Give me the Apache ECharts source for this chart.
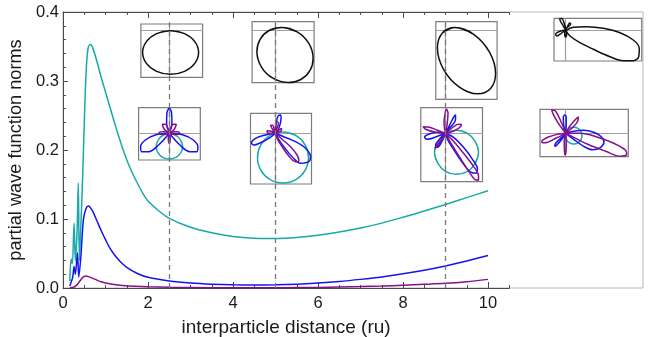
<!DOCTYPE html>
<html>
<head>
<meta charset="utf-8">
<script src="https://cdn.jsdelivr.net/npm/echarts@6/dist/echarts.min.js"></script>
<style>
html, body { margin: 0; padding: 0; background: #fff; }
#chart { width: 649px; height: 337px; }
</style>
</head>
<body>
<div id="chart"></div>
<script>
// main curves, [distance, norm]
var tealNorm = [[0.16,0.01],[0.19,0.042],[0.22,0.035],[0.26,0.094],[0.29,0.04],[0.33,0.08],[0.36,0.152],[0.385,0.04],[0.42,0.09],[0.46,0.157],[0.52,0.277],[0.56,0.33],[0.6,0.35],[0.65,0.353],[0.7,0.348],[0.8,0.328],[0.9,0.305],[1.0,0.284],[1.1,0.263],[1.2,0.242],[1.3,0.222],[1.4,0.203],[1.5,0.186],[1.6,0.171],[1.7,0.158],[1.8,0.146],[1.9,0.135],[2.0,0.126],[2.25,0.112],[2.5,0.101],[3.0,0.088],[3.5,0.08],[4.0,0.0748],[4.5,0.0722],[5.0,0.0717],[5.5,0.0733],[6.0,0.0765],[6.5,0.081],[7.0,0.0868],[7.5,0.094],[8.0,0.1025],[8.5,0.1115],[9.0,0.121],[9.5,0.131],[10,0.141]];
var blueNorm = [[0.16,0.003],[0.2,0.01],[0.23,0.016],[0.26,0.031],[0.29,0.02],[0.34,0.051],[0.37,0.016],[0.42,0.045],[0.48,0.099],[0.54,0.115],[0.6,0.119],[0.7,0.111],[0.8,0.097],[0.9,0.083],[1.0,0.07],[1.1,0.058],[1.2,0.049],[1.35,0.038],[1.5,0.03],[1.75,0.021],[2.0,0.0155],[2.5,0.0102],[3.0,0.0072],[3.5,0.0055],[4.0,0.0046],[4.5,0.0043],[5.0,0.0046],[5.5,0.0055],[6.0,0.0072],[6.5,0.0095],[7.0,0.0125],[7.5,0.016],[8.0,0.0205],[8.5,0.0258],[9.0,0.032],[9.5,0.039],[10,0.047]];
var purpleNorm = [[0.16,0.0],[0.25,0.001],[0.3,0.003],[0.36,0.007],[0.42,0.012],[0.48,0.016],[0.54,0.0174],[0.6,0.0165],[0.7,0.014],[0.8,0.0114],[0.9,0.009],[1.0,0.0072],[1.2,0.005],[1.4,0.0036],[1.7,0.0024],[2.0,0.0017],[2.5,0.001],[3,0.0007],[4,0.0004],[5,0.0004],[5.5,0.0006],[6.0,0.0009],[6.5,0.0014],[7.0,0.002],[7.5,0.0029],[8.0,0.004],[8.5,0.0053],[9.0,0.0068],[9.5,0.0092],[10,0.0125]];

var xTickLabels = [0, 2, 4, 6, 8, 10];
var markedDistances = [2.5, 5, 9];

// polar insets, outline points in each inset's own units (origin = crosshair)
var a1Black = [[[1.3,-0.7],[15.3,-3.6],[25.5,-11.6],[29.3,-22.5],[25.5,-33.4],[15.3,-41.4],[1.3,-44.3],[-12.7,-41.4],[-22.9,-33.4],[-26.7,-22.5],[-22.9,-11.6],[-12.7,-3.6],[1.3,-0.7]]];
var b1Black = [[[6,2.5],[-6.4,-0.5],[-15.4,-9.3],[-18.6,-21.6],[-14.2,-36.8],[-2.6,-48.2],[13,-52.5],[25.4,-49.5],[34.4,-40.7],[37.6,-28.4],[33.2,-13.2],[21.6,-1.8],[6,2.5]]];
var c1Black = [[[9.7,2.4],[-3.1,-2.9],[-8.1,-17.8],[-2,-39.3],[13.9,-57.1],[32.3,-63.8],[45.1,-58.5],[50.1,-43.6],[44,-22.1],[28.1,-4.3],[9.7,2.4]]];
var d1Black = [
  [[0,-0.7],[7.6,2.7],[21,3.3],[37.6,1.7],[54.3,-2.7],[67.6,-10],[73.6,-18.3],[73,-26.7],[67.6,-30.7],[57.6,-30.7],[44.3,-26.7],[27.6,-19.3],[14.3,-12.7],[4.3,-6],[0,-0.7]],
  [[0,0],[-3,5],[-6,11],[-4,11.5],[-1,5],[0,0]],
  [[0,0],[2,4],[4,7],[5,6],[1,2],[0,0]],
  [[0,0],[-5,-1],[-10,-4],[-9,-6],[-4,-3],[0,0]],
  [[0,0],[-1,-3],[0,-7],[1,-3],[0,0]]
];

var a2Teal = [[[0,0],[7.7,-2.7],[12,-8.4],[13.3,-13.4],[11.6,-19.4],[6.6,-24],[0,-25.7],[-6.7,-24],[-11.4,-19.4],[-13,-13.4],[-11.7,-7.7],[-7.4,-2.7],[0,0]]];
var a2Blue = [
  [[0,0],[-2.7,10],[-2.4,20],[0,25],[2.3,20],[2.6,10],[0,0]],
  [[0,0],[-14,-1.7],[-24,-6.7],[-28.7,-13.4],[-27.4,-18.4],[-20.7,-18.4],[-10.7,-11.7],[0,0]],
  [[0,0],[14,-1.7],[24,-6.7],[28.6,-13.4],[27.3,-18.4],[20.6,-18.4],[10.6,-11.7],[0,0]]
];
var a2Purple = [
  [[0,0],[-5,4],[-7,9],[-4,9],[-1,4],[0,0]],
  [[0,0],[5,4],[7,9],[4,9],[1,4],[0,0]],
  [[0,0],[-5,1.5],[-10,1],[-10,-1],[-5,-1],[0,0]],
  [[0,0],[5,1.5],[10,1],[10,-1],[5,-1],[0,0]],
  [[0,0],[-1,-5],[0,-10],[1,-5],[0,0]]
];

var b2Teal = [[[7.5,1.3],[20.3,-2.1],[29.6,-11.5],[33,-24.2],[29.6,-37],[20.3,-46.3],[7.5,-49.7],[-5.3,-46.3],[-14.6,-37],[-18,-24.2],[-14.6,-11.5],[-5.3,-2.1],[7.5,1.3]]];
var b2Blue = [
  [[0,0],[0.6,10],[2.6,17.3],[5,18.3],[5.6,15],[3.3,5],[0,0]],
  [[0,0],[-10,-1.7],[-20,-5],[-24,-9.4],[-21.7,-11.7],[-15,-9.4],[-5,-4],[0,0]],
  [[0,0],[8.3,-3.4],[20,-8.4],[30,-15],[35,-23.4],[33.3,-28.4],[25,-30],[16.6,-23.4],[8.3,-13.4],[2.6,-5],[0,0]]
];
var b2Purple = [
  [[0,0],[6.6,-6],[15,-13.4],[21.6,-21.7],[23.3,-27.4],[20,-28.4],[13.3,-22.7],[6.6,-13.4],[1.6,-5],[0,0]],
  [[0,0],[0,6],[1.6,11.6],[3,10],[1,4],[0,0]],
  [[0,0],[-4,2],[-8.4,2.6],[-8,0.5],[-4,0],[0,0]],
  [[0,0],[-3,4],[-5,8],[-3,8],[-1,3],[0,0]],
  [[0,0],[3,3],[6,5],[6,3],[3,1],[0,0]]
];

var c2Teal = [[[11,3],[22,0],[29.6,-8],[33,-19],[29.6,-30],[22,-38],[11,-41],[0,-38],[-7.6,-30],[-11,-19],[-7.6,-8],[0,0],[11,3]]];
var c2Blue = [
  [[0,0],[8,-4],[18,-14],[27,-26],[32,-36],[30,-40],[24,-38],[16,-28],[8,-16],[2,-6],[0,0]],
  [[0,0],[4,8],[8,16],[10,18.5],[10,14],[3,4],[0,0]],
  [[0,0],[-8,1],[-17,-1],[-21,-4],[-18,-6],[-8,-3],[0,0]],
  [[0,0],[-5,-5],[-10,-12],[-8,-14],[-3,-7],[0,0]]
];
var c2Purple = [
  [[0,0],[8,-8],[18,-20],[28,-33],[33,-43],[33,-47],[29,-46],[22,-36],[13,-22],[5,-9],[0,0]],
  [[0,0],[-1.5,10],[0,22],[1,24],[2.5,20],[1.5,8],[0,0]],
  [[0,0],[-8,3],[-16,6],[-22.4,6.6],[-20,4],[-10,1],[0,0]],
  [[0,0],[6,5],[13,9],[16,8.3],[13,5],[5,1],[0,0]],
  [[0,0],[-4,-6],[-9,-13],[-10.7,-15],[-7,-12],[-2,-4],[0,0]]
];

var d2Teal = [[[8,6],[12.2,4.9],[15.2,1.9],[16.3,-2.3],[15.2,-6.5],[12.2,-9.5],[8,-10.6],[3.8,-9.5],[0.8,-6.5],[-0.3,-2.3],[0.8,1.9],[3.8,4.9],[8,6]]];
var d2Blue = [
  [[0,0],[8,2],[18,3],[28,1],[35,-3],[38.3,-8.4],[35,-14],[27,-16.5],[18,-13],[8,-6],[0,0]],
  [[0,0],[-2,8],[-2.4,16],[-1,18.3],[0.5,16],[0.5,8],[0,0]],
  [[0,0],[-4,-6],[-9,-12],[-11,-13],[-10,-10],[-4,-4],[0,0]]
];
var d2Purple = [
  [[0,0],[15,0],[32,-4],[48,-10],[60,-17],[61,-21],[55,-23],[40,-18],[22,-11],[8,-4],[0,0]],
  [[0,0],[-6,8],[-12,18],[-14,23.3],[-10,22],[-4,10],[0,0]],
  [[0,0],[4,7],[10,14],[12.6,16.6],[12,12],[5,4],[0,0]],
  [[0,0],[-8,-1],[-18,-4],[-24,-8.4],[-21,-9.5],[-10,-5],[0,0]],
  [[0,0],[-1.5,-8],[-1.2,-18],[-0.7,-21.7],[0.3,-18],[0.7,-8],[0,0]]
];

var TEAL = '#17a9a9', BLUE = '#1414f0', PURPLE = '#85108a', BLACK = '#111';
var FONT = 'Liberation Sans';

// inset placement: crosshair pixel and frame extent (inset units)
// third entry of a curve: true when the outline is a smooth closed loop (no cusp)
var insets = [
  {ox: 169.3, oy: 30, x: [-28.4, 33.3], y: [-47.3, 6], curves: [[a1Black, BLACK, true]]},
  {ox: 275.5, oy: 30, x: [-23.4, 38.6], y: [-52.7, 8.3], curves: [[b1Black, BLACK, true]]},
  {ox: 445.5, oy: 30, x: [-9.7, 51.6], y: [-69.3, 8.3], curves: [[c1Black, BLACK, true]]},
  {ox: 565.7, oy: 30, x: [-11.7, 76], y: [-31, 11.7], curves: [[d1Black, BLACK]]},
  {ox: 169.3, oy: 133.3, x: [-30.7, 31], y: [-26.7, 25.6], curves: [[a2Teal, TEAL, true], [a2Blue, BLUE], [a2Purple, PURPLE]]},
  {ox: 275.5, oy: 133.3, x: [-25, 36], y: [-50.7, 20], curves: [[b2Teal, TEAL, true], [b2Blue, BLUE], [b2Purple, PURPLE]]},
  {ox: 445.5, oy: 133.3, x: [-24.7, 37], y: [-48.4, 25.6], curves: [[c2Teal, TEAL, true], [c2Blue, BLUE], [c2Purple, PURPLE]]},
  {ox: 565.7, oy: 133.3, x: [-25.7, 62.6], y: [-23.4, 24], curves: [[d2Teal, TEAL, true], [d2Blue, BLUE], [d2Purple, PURPLE]]}
];

var chart = echarts.init(document.getElementById('chart'));

var grids = [], xAxes = [], yAxes = [], series = [];

// grid 0: whole plot range, light frame
grids.push({left: 63, top: 12, width: 580, height: 276, show: true, borderColor: '#b8b8b8', borderWidth: 1, outerBoundsMode: 'none'});
xAxes.push({gridIndex: 0, type: 'value', min: 0, max: 580 / 42.5, show: false});
yAxes.push({gridIndex: 0, type: 'value', min: 0, max: 0.4, show: false});

// grid 1: ticked part of the frame (0 .. 10.5), minor ticks
var axisCol = '#4a4a4a';
grids.push({left: 63, top: 12, width: 446.25, height: 276, outerBoundsMode: 'none'});
xAxes.push({
  gridIndex: 1, type: 'value', position: 'bottom', min: 0, max: 10.5, interval: 0.5,
  axisLine: {lineStyle: {color: axisCol, width: 1}},
  axisTick: {inside: true, length: 3, lineStyle: {color: axisCol}},
  axisLabel: {
    fontFamily: FONT, fontSize: 16.5, color: '#1a1a1a', margin: 7,
    formatter: function (v) { return xTickLabels.indexOf(v) >= 0 ? String(v) : ''; }
  },
  splitLine: {show: false},
  name: 'interparticle distance (ru)', nameLocation: 'middle', nameGap: 30,
  nameTextStyle: {fontFamily: FONT, fontSize: 19, color: '#1a1a1a', verticalAlign: 'top'}
});
xAxes.push({
  gridIndex: 1, type: 'value', position: 'top', min: 0, max: 10.5, interval: 0.5,
  axisLine: {lineStyle: {color: axisCol, width: 1}},
  axisTick: {inside: true, length: 3, lineStyle: {color: axisCol}},
  axisLabel: {show: false}, splitLine: {show: false}
});
yAxes.push({
  gridIndex: 1, type: 'value', position: 'left', min: 0, max: 0.4, interval: 0.1,
  axisLine: {lineStyle: {color: axisCol, width: 1}},
  axisTick: {inside: true, length: 5, lineStyle: {color: axisCol}},
  minorTick: {show: true, splitNumber: 5, length: 3, lineStyle: {color: axisCol}},
  axisLabel: {fontFamily: FONT, fontSize: 16.5, color: '#1a1a1a', margin: 4,
    formatter: function (v) { return v.toFixed(1); }},
  splitLine: {show: false},
  name: 'partial wave function norms', nameLocation: 'middle', nameGap: 30, nameRotate: 90,
  nameTextStyle: {fontFamily: FONT, fontSize: 18.2, color: '#1a1a1a'}
});

// grid 2: longer major x ticks
grids.push({left: 63, top: 12, width: 425, height: 276, outerBoundsMode: 'none'});
xAxes.push({gridIndex: 2, type: 'value', position: 'bottom', min: 0, max: 10, interval: 2,
  axisLine: {show: false}, axisTick: {inside: true, length: 6, lineStyle: {color: axisCol}},
  axisLabel: {show: false}, splitLine: {show: false}});
xAxes.push({gridIndex: 2, type: 'value', position: 'top', min: 0, max: 10, interval: 2,
  axisLine: {show: false}, axisTick: {inside: true, length: 6, lineStyle: {color: axisCol}},
  axisLabel: {show: false}, splitLine: {show: false}});
yAxes.push({gridIndex: 2, type: 'value', min: 0, max: 0.4, show: false});

function mainLine(name, data, color) {
  return {
    name: name, type: 'line', xAxisIndex: 0, yAxisIndex: 0, data: data,
    showSymbol: false, smooth: 0.3, silent: true,
    lineStyle: {color: color, width: 1.5}, z: 3
  };
}
series.push(mainLine('l=0', tealNorm, TEAL));
series.push(mainLine('l=2', blueNorm, BLUE));
series.push(mainLine('l=4', purpleNorm, PURPLE));

// dashed markers from axis up to the top insets
series.push({
  type: 'line', xAxisIndex: 0, yAxisIndex: 0, data: [], silent: true,
  markLine: {
    symbol: 'none', silent: true, label: {show: false},
    lineStyle: {color: '#777', width: 1.3, type: [5, 4]},
    data: markedDistances.map(function (d) {
      return [{coord: [d, 0]}, {coord: [d, 0.385]}];
    })
  }
});

insets.forEach(function (ins) {
  var gi = grids.length;
  grids.push({
    left: ins.ox + ins.x[0], top: ins.oy - ins.y[1],
    width: ins.x[1] - ins.x[0], height: ins.y[1] - ins.y[0],
    show: true, borderColor: '#7c7c7c', borderWidth: 1.2, outerBoundsMode: 'none'
  });
  var ax = {
    gridIndex: gi, type: 'value',
    axisLine: {show: true, onZero: true, lineStyle: {color: '#a0a0a0', width: 1.2}},
    axisTick: {show: false}, axisLabel: {show: false}, splitLine: {show: false}
  };
  xAxes.push(Object.assign({}, ax, {min: ins.x[0], max: ins.x[1]}));
  yAxes.push(Object.assign({}, ax, {min: ins.y[0], max: ins.y[1]}));
  var xi = xAxes.length - 1, yi = yAxes.length - 1;
  ins.curves.forEach(function (c) {
    c[0].forEach(function (loop) {
      var pts = loop;
      // smooth loops: repeat a neighbour at each end so the join has no corner
      if (c[2]) pts = [loop[loop.length - 2]].concat(loop, [loop[1]]);
      series.push({
        type: 'line', xAxisIndex: xi, yAxisIndex: yi, data: pts,
        showSymbol: false, smooth: 0.36, silent: true, clip: false,
        lineStyle: {color: c[1], width: 1.5}, z: 4
      });
    });
  });
});

chart.setOption({
  animation: false,
  backgroundColor: '#fff',
  grid: grids,
  xAxis: xAxes,
  yAxis: yAxes,
  series: series
});
</script>
</body>
</html>
